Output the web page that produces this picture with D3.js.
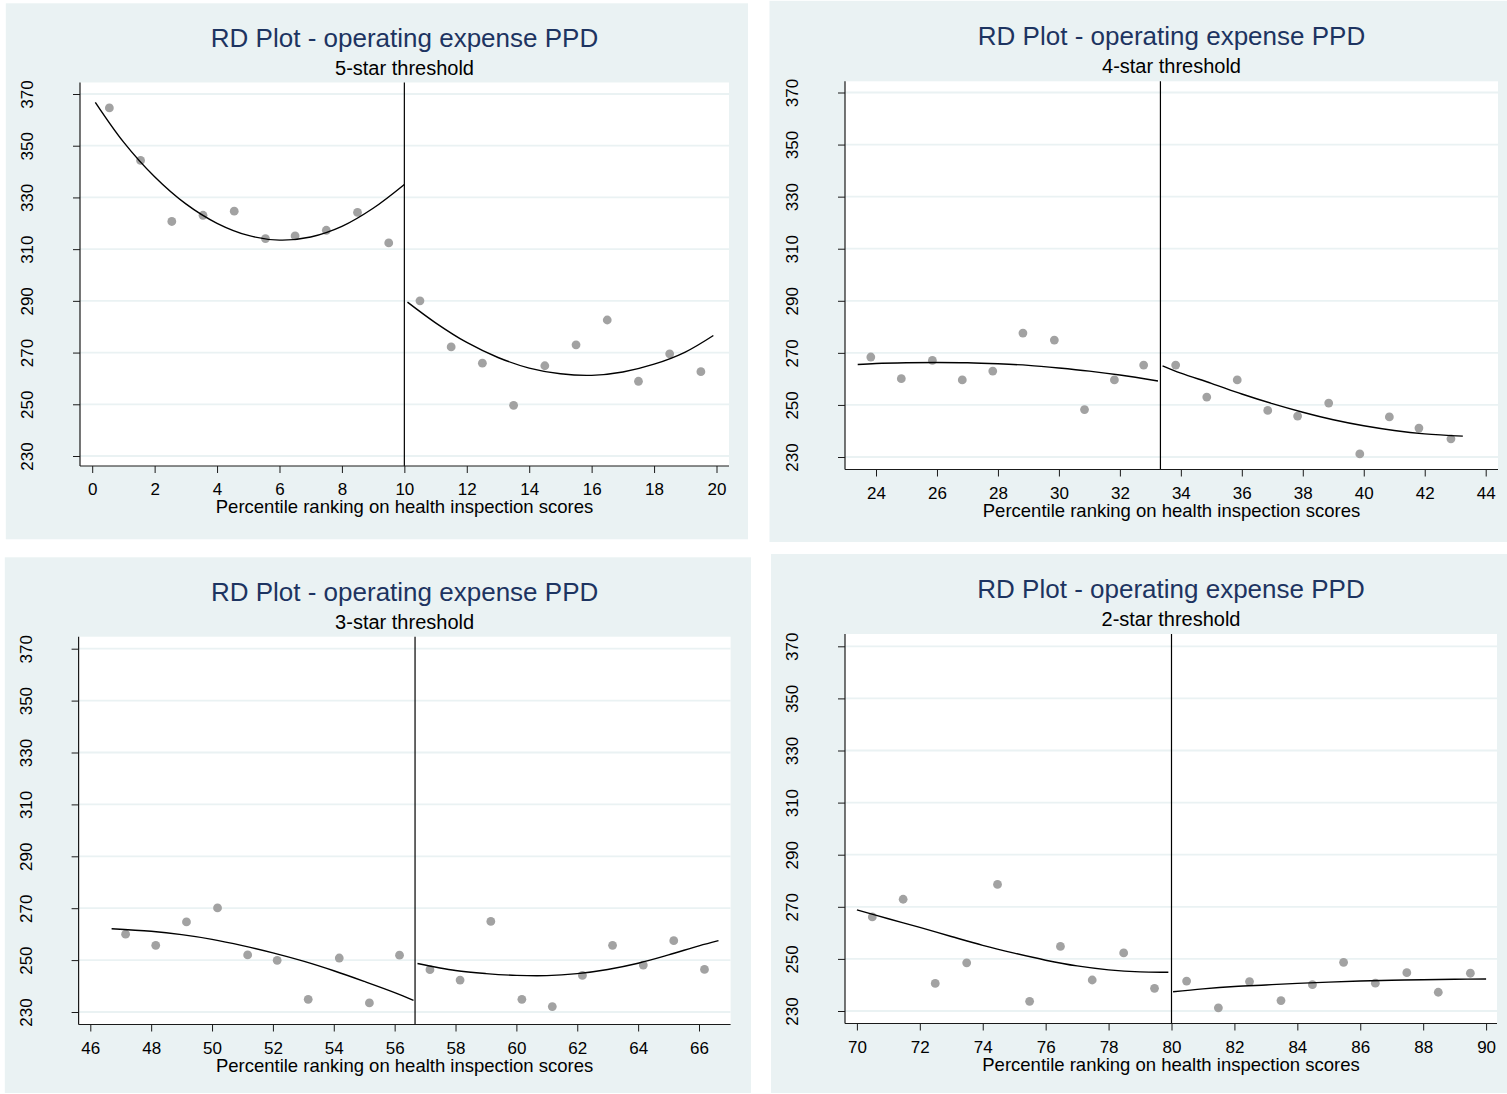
<!DOCTYPE html>
<html>
<head>
<meta charset="utf-8">
<script src="https://cdn.jsdelivr.net/npm/d3@7"></script>
<style>
  html, body { margin: 0; padding: 0; background: #ffffff; }
  svg { display: block; }
</style>
</head>
<body>
<svg id="chart" width="1507" height="1094"></svg>
<script>
// ---------------- data ----------------
const mainTitle = "RD Plot - operating expense PPD";
const subtitles = ["5-star threshold", "4-star threshold", "3-star threshold", "2-star threshold"];
const xAxisTitle = "Percentile ranking on health inspection scores";
const yTicks = [230, 250, 270, 290, 310, 330, 350, 370];

const xTicks5 = [0, 2, 4, 6, 8, 10, 12, 14, 16, 18, 20];
const xTicks4 = [24, 26, 28, 30, 32, 34, 36, 38, 40, 42, 44];
const xTicks3 = [46, 48, 50, 52, 54, 56, 58, 60, 62, 64, 66];
const xTicks2 = [70, 72, 74, 76, 78, 80, 82, 84, 86, 88, 90];

const cutoffs = [10, 33.33, 56.67, 80];

// 5-star threshold panel
const binX5 = [0.55, 1.55, 2.55, 3.55, 4.55, 5.55, 6.5, 7.5, 8.5, 9.5, 10.5, 11.5, 12.5, 13.5, 14.5, 15.5, 16.5, 17.5, 18.5, 19.5];
const binY5 = [364.6, 344.3, 320.7, 323.1, 324.7, 314.1, 315.1, 317.3, 324.2, 312.4, 290.0, 272.2, 265.9, 249.6, 264.9, 273.0, 282.6, 258.9, 269.5, 262.6];
const fitLX5 = [0.1, 1, 2, 3, 4, 5, 6, 7, 8, 9, 10];
const fitLY5 = [366.8, 351.5, 338.0, 327.5, 320.0, 315.3, 313.5, 314.7, 318.8, 325.8, 335.0];
const fitRX5 = [10.1, 11, 12, 13, 14, 15, 16, 17, 18, 19, 19.9];
const fitRY5 = [289.5, 281.5, 273.9, 268.1, 264.0, 261.8, 261.2, 262.5, 265.5, 270.2, 276.6];

// 4-star threshold panel
const binX4 = [23.83, 24.83, 25.85, 26.83, 27.83, 28.82, 29.85, 30.84, 31.82, 32.78, 33.83, 34.85, 35.85, 36.85, 37.83, 38.85, 39.87, 40.84, 41.81, 42.86];
const binY4 = [268.4, 260.1, 267.1, 259.6, 263.0, 277.6, 274.9, 248.2, 259.6, 265.3, 265.3, 253.0, 259.6, 247.9, 245.7, 250.7, 231.2, 245.4, 241.1, 237.0];
const fitLX4 = [23.4, 24, 25, 26, 27, 28, 29, 30, 31, 32, 33.25];
const fitLY4 = [265.5, 265.9, 266.2, 266.3, 266.2, 265.8, 265.2, 264.2, 263.0, 261.5, 259.2];
const fitRX4 = [33.4, 34, 35, 36, 37, 38, 39, 40, 41, 42, 43.25];
const fitRY4 = [265.0, 262.2, 258.3, 254.2, 250.5, 247.2, 244.3, 242.0, 240.2, 238.9, 238.0];

// 3-star threshold panel
const binX3 = [47.16, 48.15, 49.16, 50.18, 51.17, 52.14, 53.16, 54.18, 55.17, 56.16, 57.16, 58.15, 59.16, 60.18, 61.18, 62.17, 63.16, 64.17, 65.17, 66.18];
const binY3 = [260.0, 255.7, 264.7, 270.1, 252.0, 249.9, 234.9, 250.8, 233.5, 251.9, 246.3, 242.3, 264.9, 234.9, 232.1, 244.1, 255.7, 248.1, 257.5, 246.4];
const fitLX3 = [46.7, 48, 49, 50, 51, 52, 53, 54, 55, 56, 56.62];
const fitLY3 = [262.1, 261.1, 259.8, 258.0, 255.6, 252.8, 249.6, 245.9, 241.8, 237.5, 234.5];
const fitRX3 = [56.75, 58, 59, 60, 61, 62, 63, 64, 65, 66, 66.64];
const fitRY3 = [248.7, 246.0, 244.8, 244.1, 244.0, 244.8, 246.4, 248.8, 252.0, 255.5, 257.5];

// 2-star threshold panel
const binX2 = [70.49, 71.47, 72.49, 73.49, 74.47, 75.49, 76.47, 77.48, 78.48, 79.46, 80.48, 81.49, 82.48, 83.48, 84.48, 85.47, 86.48, 87.48, 88.48, 89.5];
const binY2 = [266.1, 272.9, 240.6, 248.5, 278.6, 233.7, 254.8, 241.9, 252.3, 238.7, 241.5, 231.2, 241.3, 234.0, 240.1, 248.7, 240.7, 244.7, 237.2, 244.5];
const fitLX2 = [70, 71, 72, 73, 74, 75, 76, 77, 78, 79, 79.9];
const fitLY2 = [268.8, 265.4, 262.1, 258.6, 255.2, 252.2, 249.5, 247.3, 245.8, 245.0, 244.9];
const fitRX2 = [80.05, 81, 82, 83, 84, 85, 86, 87, 88, 89, 90];
const fitRY2 = [237.4, 238.5, 239.4, 240.0, 240.6, 241.1, 241.5, 241.8, 242.0, 242.2, 242.3];

// ---------------- layout (pixels) ----------------
const layouts = [
  { bg: [5.8, 3.3, 748, 539.3], l: 80,   r: 729,   t: 82.5,  b: 466,    xa: [0, 92.2],  xb: [20, 716.5],  ya: [370, 94],    yb: [230, 456] },
  { bg: [769.5, 0.8, 1507, 542], l: 845,  r: 1498,  t: 81.3,  b: 469.5,  xa: [24, 876],  xb: [44, 1485.7], ya: [370, 92.5],  yb: [230, 457] },
  { bg: [4.8, 557.3, 751, 1093], l: 78.6, r: 730.6, t: 636.7, b: 1024.5, xa: [46, 90.3], xb: [66, 699],    ya: [370, 648.7], yb: [230, 1012] },
  { bg: [771, 554, 1507, 1093],  l: 845,  r: 1497,  t: 634,   b: 1023.5, xa: [70, 856.9], xb: [90, 1486.1], ya: [370, 646.3], yb: [230, 1011] }
];

const panelData = [
  { xt: xTicks5, bx: binX5, by: binY5, lx: fitLX5, ly: fitLY5, rx: fitRX5, ry: fitRY5 },
  { xt: xTicks4, bx: binX4, by: binY4, lx: fitLX4, ly: fitLY4, rx: fitRX4, ry: fitRY4 },
  { xt: xTicks3, bx: binX3, by: binY3, lx: fitLX3, ly: fitLY3, rx: fitRX3, ry: fitRY3 },
  { xt: xTicks2, bx: binX2, by: binY2, lx: fitLX2, ly: fitLY2, rx: fitRX2, ry: fitRY2 }
];

const FONT = "'Liberation Sans', Arial, Helvetica, sans-serif";
const BG = "#eaf2f3";
const TITLE_COLOR = "#1d3461";
const DOT_COLOR = "#a2a2a2";
const AXIS_COLOR = "#1a1a1a";

const svg = d3.select("#chart");

layouts.forEach((L, i) => {
  const D = panelData[i];
  const g = svg.append("g");

  const x = d3.scaleLinear().domain([L.xa[0], L.xb[0]]).range([L.xa[1], L.xb[1]]);
  const y = d3.scaleLinear().domain([L.yb[0], L.ya[0]]).range([L.yb[1], L.ya[1]]);

  // graph region background
  g.append("rect")
    .attr("x", L.bg[0]).attr("y", L.bg[1])
    .attr("width", L.bg[2] - L.bg[0]).attr("height", L.bg[3] - L.bg[1])
    .attr("fill", BG);

  // plot region
  g.append("rect")
    .attr("x", L.l).attr("y", L.t)
    .attr("width", L.r - L.l).attr("height", L.b - L.t)
    .attr("fill", "#ffffff");

  // gridlines
  g.append("g").selectAll("line").data(yTicks).join("line")
    .attr("x1", L.l).attr("x2", L.r)
    .attr("y1", d => y(d)).attr("y2", d => y(d))
    .attr("stroke", BG).attr("stroke-width", 1.8);

  // titles
  const cx = (L.l + L.r) / 2;
  g.append("text")
    .attr("x", cx).attr("y", L.t - 36)
    .attr("text-anchor", "middle")
    .attr("font-family", FONT).attr("font-size", 26)
    .attr("fill", TITLE_COLOR)
    .text(mainTitle);
  g.append("text")
    .attr("x", cx).attr("y", L.t - 8)
    .attr("text-anchor", "middle")
    .attr("font-family", FONT).attr("font-size", 20)
    .attr("fill", "#000")
    .text(subtitles[i]);

  // threshold line
  g.append("line")
    .attr("x1", x(cutoffs[i])).attr("x2", x(cutoffs[i]))
    .attr("y1", L.t).attr("y2", L.b)
    .attr("stroke", "#000").attr("stroke-width", 1.2);

  // binned scatter
  const pts = D.bx.map((v, k) => [v, D.by[k]]);
  g.append("g").selectAll("circle").data(pts).join("circle")
    .attr("cx", d => x(d[0])).attr("cy", d => y(d[1]))
    .attr("r", 4.4).attr("fill", DOT_COLOR);

  // fitted polynomials
  const line = d3.line().x(d => x(d[0])).y(d => y(d[1])).curve(d3.curveCatmullRom.alpha(0.5));
  const left = D.lx.map((v, k) => [v, D.ly[k]]);
  const right = D.rx.map((v, k) => [v, D.ry[k]]);
  [left, right].forEach(seg => {
    g.append("path").attr("d", line(seg))
      .attr("fill", "none").attr("stroke", "#000").attr("stroke-width", 1.4);
  });

  // y axis
  const ya = g.append("g").attr("transform", `translate(${L.l},0)`)
    .call(d3.axisLeft(y).tickValues(yTicks).tickSize(7).tickSizeOuter(0));
  ya.select(".domain").remove();
  ya.selectAll(".tick line").attr("stroke", AXIS_COLOR).attr("stroke-width", 1);
  ya.selectAll(".tick text")
    .attr("x", null).attr("dy", null)
    .attr("transform", "translate(-47,0) rotate(-90)")
    .attr("text-anchor", "middle")
    .attr("font-family", FONT).attr("font-size", 17)
    .attr("fill", "#000");
  g.append("line")
    .attr("x1", L.l).attr("x2", L.l).attr("y1", L.t).attr("y2", L.b)
    .attr("stroke", AXIS_COLOR).attr("stroke-width", 1.2);

  // x axis
  const xa = g.append("g").attr("transform", `translate(0,${L.b})`)
    .call(d3.axisBottom(x).tickValues(D.xt).tickSize(7).tickSizeOuter(0));
  xa.select(".domain").remove();
  xa.selectAll(".tick line").attr("stroke", AXIS_COLOR).attr("stroke-width", 1);
  xa.selectAll(".tick text")
    .attr("y", 29).attr("dy", null)
    .attr("font-family", FONT).attr("font-size", 17)
    .attr("fill", "#000");
  g.append("line")
    .attr("x1", L.l).attr("x2", L.r).attr("y1", L.b).attr("y2", L.b)
    .attr("stroke", AXIS_COLOR).attr("stroke-width", 1.2);

  g.append("text")
    .attr("x", cx).attr("y", L.b + 47)
    .attr("text-anchor", "middle")
    .attr("font-family", FONT).attr("font-size", 18.5)
    .attr("fill", "#000")
    .text(xAxisTitle);
});
</script>
</body>
</html>
